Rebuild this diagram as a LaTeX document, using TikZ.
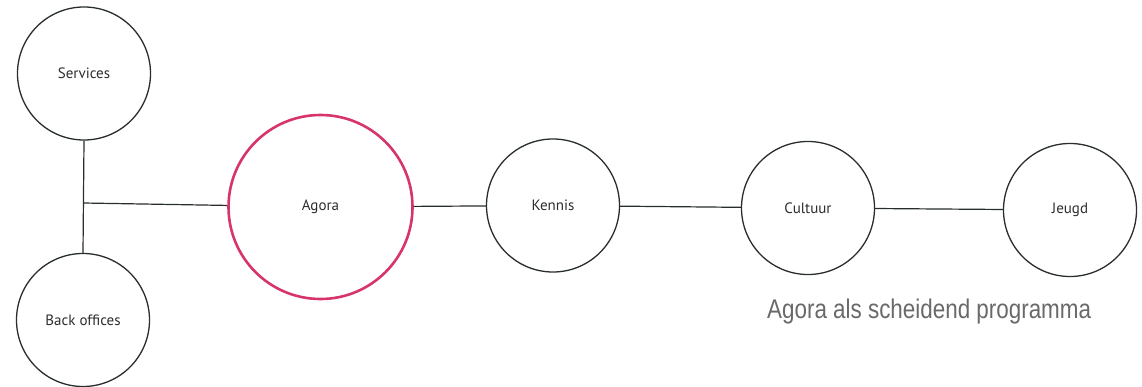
\documentclass[tikz,border=0pt]{standalone}
\usepackage{fontspec}
\setmainfont{PT Sans}
\newfontfamily\captionfont{Liberation Sans}
\definecolor{agorapink}{RGB}{216,52,108}
\definecolor{labelgray}{RGB}{45,45,45}
\definecolor{linegray}{RGB}{40,45,45}
\definecolor{captiongray}{RGB}{105,105,105}
\begin{document}
\begin{tikzpicture}[x=1pt,y=-1pt,
  topic/.style={circle,draw=linegray,line width=1.3pt,minimum size=133pt,inner sep=0pt,
    font=\fontsize{15}{17}\selectfont,text=labelgray},
  hub/.style={topic,draw=agorapink,line width=2.6pt,minimum size=184pt},
  link/.style={draw=linegray,line width=1.2pt}]
\useasboundingbox (0,0) rectangle (1142,387);
\node[topic] (services) at (84,73.5) {Services};
\node[topic] (back) at (83,320) {Back offices};
\node[hub] (agora) at (320.5,207) {Agora};
\node[topic] (kennis) at (553,205.5) {Kennis};
\node[topic] (cultuur) at (808,208) {Cultuur};
\node[topic] (jeugd) at (1070,210) {Jeugd};
\coordinate (junction) at (83,203);
\draw[link] (services.south) -- (back.north);
\draw[link] (junction) -- (agora);
\draw[link] (agora) -- (kennis);
\draw[link] (kennis) -- (cultuur);
\draw[link] (cultuur) -- (jeugd);
\node[anchor=base west,inner sep=0pt,text=captiongray] (caption) at (767,318)
  {\scalebox{0.83}[1]{\captionfont\fontsize{27}{30}\selectfont Agora als scheidend programma}};
\end{tikzpicture}
\end{document}
